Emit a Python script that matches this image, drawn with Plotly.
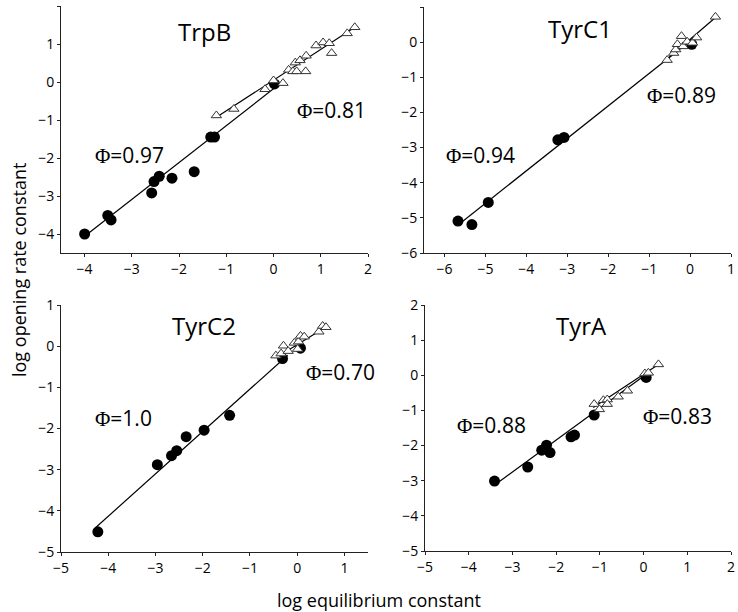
import plotly.graph_objects as go

# ---------------- data ----------------
# TrpB
trpb_circ_x = [-4.0, -3.51, -3.44, -2.58, -2.53, -2.42, -2.15, -1.68, -1.33, -1.25, 0.02]
trpb_circ_y = [-4.0, -3.51, -3.63, -2.92, -2.62, -2.48, -2.53, -2.36, -1.45, -1.45, -0.05]
trpb_tri_x = [-1.21, -0.84, -0.18, 0.0, 0.2, 0.32, 0.41, 0.49, 0.46, 0.56, 0.68, 0.69, 0.9, 1.05, 1.18, 1.23, 1.56, 1.72]
trpb_tri_y = [-0.88, -0.71, -0.19, 0.04, -0.03, 0.32, 0.28, 0.28, 0.51, 0.57, 0.28, 0.69, 0.96, 1.04, 1.02, 0.76, 1.28, 1.44]
trpb_circ_fit_x = [-4.0, 0.1]
trpb_circ_fit_y = [-4.06, -0.08]
trpb_tri_fit_x = [-1.21, 1.72]
trpb_tri_fit_y = [-0.93, 1.44]

# TyrC1
tyrc1_circ_x = [-5.67, -5.33, -4.93, -3.23, -3.08, 0.04]
tyrc1_circ_y = [-5.09, -5.19, -4.56, -2.78, -2.71, -0.06]
tyrc1_tri_x = [-0.56, -0.4, -0.35, -0.31, -0.21, -0.17, -0.07, 0.06, 0.16, 0.62]
tyrc1_tri_y = [-0.51, -0.31, -0.21, -0.06, 0.17, -0.12, 0.01, -0.02, 0.13, 0.72]
tyrc1_circ_fit_x = [-5.59, 0.0]
tyrc1_circ_fit_y = [-5.13, 0.03]
tyrc1_tri_fit_x = [-0.6, 0.62]
tyrc1_tri_fit_y = [-0.52, 0.7]

# TyrC2
tyrc2_circ_x = [-4.22, -2.96, -2.66, -2.55, -2.35, -1.97, -1.43, -0.31, 0.07]
tyrc2_circ_y = [-4.51, -2.88, -2.66, -2.54, -2.2, -2.04, -1.68, -0.3, -0.05]
tyrc2_tri_x = [-0.45, -0.34, -0.29, -0.19, -0.06, 0.01, 0.03, 0.07, 0.15, 0.46, 0.54, 0.61]
tyrc2_tri_y = [-0.23, -0.18, 0.01, -0.12, 0.08, -0.07, 0.11, 0.25, 0.23, 0.35, 0.49, 0.46]
tyrc2_circ_fit_x = [-4.27, -0.2]
tyrc2_circ_fit_y = [-4.41, -0.22]
tyrc2_tri_fit_x = [-0.45, 0.6]
tyrc2_tri_fit_y = [-0.28, 0.46]

# TyrA
tyra_circ_x = [-3.41, -2.65, -2.33, -2.22, -2.14, -1.66, -1.58, -1.13, 0.06]
tyra_circ_y = [-3.01, -2.61, -2.13, -1.99, -2.2, -1.75, -1.7, -1.13, -0.06]
tyra_tri_x = [-1.13, -1.01, -0.92, -0.83, -0.83, -0.58, -0.37, 0.03, 0.11, 0.34]
tyra_tri_y = [-0.82, -0.97, -0.71, -0.69, -0.82, -0.61, -0.44, 0.05, 0.07, 0.31]
tyra_circ_fit_x = [-3.36, 0.03]
tyra_circ_fit_y = [-3.08, 0.0]
tyra_tri_fit_x = [-1.15, 0.34]
tyra_tri_fit_y = [-0.92, 0.31]

panel_names = ["TrpB", "TyrC1", "TyrC2", "TyrA"]
phi_circ = ["0.97", "0.94", "1.0", "0.88"]
phi_tri = ["0.81", "0.89", "0.70", "0.83"]

x_ranges = [[-4.5, 2], [-6.5, 1], [-5, 1.5], [-5, 2]]
y_ranges = [[-4.5, 2], [-6, 1], [-5, 1], [-5, 2]]
x_ticks = [list(range(-4, 3)), list(range(-6, 2)), list(range(-5, 2)), list(range(-5, 3))]
y_ticks = [list(range(-4, 3)), list(range(-6, 2)), list(range(-5, 2)), list(range(-5, 3))]

# annotation positions (data coords)
name_pos = [(-1.46, 1.32), (-2.69, 0.4), (-1.98, 0.51), (-1.41, 1.43)]
phi_circ_pos = [(-3.04, -1.91), (-5.11, -3.21), (-3.68, -1.75), (-3.47, -1.42)]
phi_tri_pos = [(1.23, -0.73), (-0.2, -1.51), (0.91, -0.62), (0.77, -1.16)]

panels = [
    (trpb_circ_x, trpb_circ_y, trpb_tri_x, trpb_tri_y, trpb_circ_fit_x, trpb_circ_fit_y, trpb_tri_fit_x, trpb_tri_fit_y),
    (tyrc1_circ_x, tyrc1_circ_y, tyrc1_tri_x, tyrc1_tri_y, tyrc1_circ_fit_x, tyrc1_circ_fit_y, tyrc1_tri_fit_x, tyrc1_tri_fit_y),
    (tyrc2_circ_x, tyrc2_circ_y, tyrc2_tri_x, tyrc2_tri_y, tyrc2_circ_fit_x, tyrc2_circ_fit_y, tyrc2_tri_fit_x, tyrc2_tri_fit_y),
    (tyra_circ_x, tyra_circ_y, tyra_tri_x, tyra_tri_y, tyra_circ_fit_x, tyra_circ_fit_y, tyra_tri_fit_x, tyra_tri_fit_y),
]

W, H = 738, 612
# plot areas in pixels: (left, right, top, bottom)
areas = [(61, 368, 6, 253), (424, 731, 7, 253), (61, 368, 305, 552), (425, 731, 305, 551)]

FONT = "Open Sans"
fig = go.Figure()
layout = dict(
    width=W, height=H, margin=dict(l=0, r=0, t=0, b=0, autoexpand=False),
    paper_bgcolor="white", plot_bgcolor="white", showlegend=False,
    font=dict(family=FONT, color="black"),
)
annotations = []

for i, (cx, cy, tx, ty, cfx, cfy, tfx, tfy) in enumerate(panels):
    xa = "x" if i == 0 else f"x{i+1}"
    ya = "y" if i == 0 else f"y{i+1}"
    common = dict(xaxis=xa, yaxis=ya, hoverinfo="skip")
    fig.add_trace(go.Scatter(x=cfx, y=cfy, mode="lines", line=dict(color="black", width=1.2), **common))
    fig.add_trace(go.Scatter(x=tfx, y=tfy, mode="lines", line=dict(color="black", width=1.2), **common))
    fig.add_trace(go.Scatter(x=cx, y=cy, mode="markers",
                             marker=dict(symbol="circle", size=11, color="black", line=dict(width=0)), **common))
    fig.add_trace(go.Scatter(x=tx, y=ty, mode="markers",
                             marker=dict(symbol="triangle-up", size=9, color="white",
                                         line=dict(color="#333333", width=1)), **common))
    l, r, t, b = areas[i]
    xkey = "xaxis" if i == 0 else f"xaxis{i+1}"
    ykey = "yaxis" if i == 0 else f"yaxis{i+1}"
    axis_common = dict(showgrid=False, zeroline=False, showline=True, linecolor="#222222", linewidth=1,
                       ticks="outside", ticklen=3, tickcolor="#222222", tickwidth=1, automargin=False,
                       tickfont=dict(family=FONT, size=14, color="black"))
    layout[xkey] = dict(domain=[l / W, r / W], range=x_ranges[i], tickvals=x_ticks[i],
                        anchor=ya, **axis_common)
    layout[ykey] = dict(domain=[1 - b / H, 1 - t / H], range=y_ranges[i], tickvals=y_ticks[i],
                        anchor=xa, **axis_common)
    annotations.append(dict(x=name_pos[i][0], y=name_pos[i][1], xref=xa, yref=ya, text=panel_names[i],
                            showarrow=False, font=dict(family=FONT, size=24, color="black")))
    phi = '<span style="font-family:Liberation Serif">Φ</span>='
    annotations.append(dict(x=phi_circ_pos[i][0], y=phi_circ_pos[i][1], xref=xa, yref=ya,
                            text=phi + phi_circ[i], showarrow=False,
                            font=dict(family=FONT, size=21, color="black")))
    annotations.append(dict(x=phi_tri_pos[i][0], y=phi_tri_pos[i][1], xref=xa, yref=ya,
                            text=phi + phi_tri[i], showarrow=False,
                            font=dict(family=FONT, size=21, color="black")))

annotations.append(dict(x=379 / W, y=1 - 600 / H, xref="paper", yref="paper", text="log equilibrium constant",
                        xanchor="center", yanchor="middle",
                        showarrow=False, font=dict(family=FONT, size=18, color="black")))
annotations.append(dict(x=19 / W, y=1 - 270 / H, xref="paper", yref="paper", text="log opening rate constant",
                        xanchor="center", yanchor="middle",
                        textangle=-90, showarrow=False, font=dict(family=FONT, size=18, color="black")))
layout["annotations"] = annotations

fig.update_layout(**layout)
fig.write_html("out.html", config={"displayModeBar": False},
               post_script="document.body.style.margin='0';")
